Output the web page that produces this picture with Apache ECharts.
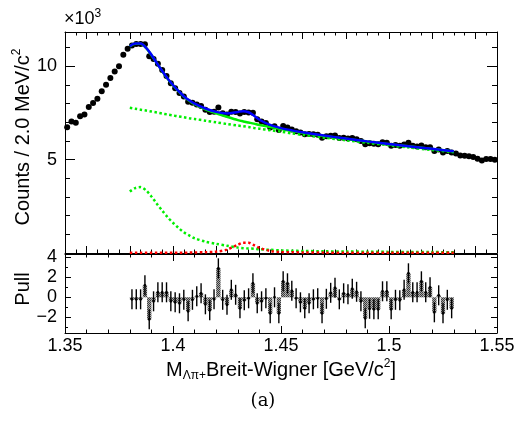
<!DOCTYPE html>
<html><head><meta charset="utf-8">
<script src="https://cdn.jsdelivr.net/npm/echarts@6/dist/echarts.min.js"></script>
<style>html,body{margin:0;padding:0;background:#fff}#c{width:521px;height:422px}</style>
</head><body><div id="c"></div>
<script>
// ---------------- data ----------------
const binLow = 1.35;      // GeV/c^2, first bin lower edge
const binWidth = 0.002;   // 2.0 MeV/c^2
// counts per bin (x10^3)
const counts = [
 6.74,7.05,6.98,7.32,7.42,7.82,8.03,8.26,8.67,9.01,
 9.37,9.73,10.01,10.62,10.94,11.12,11.20,11.20,11.18,10.54,
 10.40,10.14,9.80,9.48,9.10,8.82,8.57,8.38,8.10,8.05,
 7.96,7.88,7.68,7.55,7.57,7.79,7.49,7.42,7.57,7.55,
 7.48,7.56,7.53,7.51,7.17,7.05,6.96,6.73,6.79,6.59,
 6.80,6.73,6.62,6.52,6.45,6.36,6.37,6.36,6.33,6.18,
 6.26,6.28,6.29,6.16,6.18,6.14,6.16,6.10,6.00,5.83,
 5.88,5.85,5.82,5.93,5.90,5.74,5.78,5.75,5.81,5.90,
 5.74,5.71,5.76,5.66,5.66,5.46,5.55,5.39,5.46,5.38,
 5.33,5.23,5.21,5.19,5.14,5.05,4.96,5.03,5.03,5.00
];
// fit curves sampled at these masses
const fitMass = [1.380,1.3825,1.385,1.3875,1.390,1.3925,1.395,1.3975,1.400,1.4025,1.405,1.4075,1.410,1.415,1.420,1.425,1.430,1.4325,1.435,1.4375,1.440,1.445,1.450,1.455,1.460,1.470,1.480,1.490,1.500,1.510,1.520,1.530];
const fitTotal = [11.08,11.22,11.22,11.00,10.62,10.18,9.75,9.35,9.00,8.68,8.40,8.18,8.00,7.74,7.56,7.48,7.56,7.60,7.54,7.35,7.14,6.86,6.69,6.57,6.47,6.29,6.13,5.98,5.84,5.71,5.58,5.45];
const fitNoSignal = [11.07,11.21,11.21,10.99,10.61,10.17,9.74,9.34,8.99,8.67,8.38,8.16,7.97,7.70,7.49,7.30,7.12,7.05,6.99,6.93,6.86,6.75,6.64,6.53,6.44,6.27,6.12,5.97,5.83,5.70,5.57,5.44];
const fitSignal = [0.01,0.01,0.01,0.01,0.01,0.01,0.01,0.01,0.01,0.01,0.02,0.02,0.03,0.04,0.07,0.18,0.44,0.55,0.55,0.42,0.28,0.11,0.05,0.04,0.03,0.02,0.01,0.01,0.01,0.01,0.01,0.01];
const fitPolyBkg = [7.78,7.73,7.68,7.63,7.58,7.53,7.47,7.42,7.37,7.32,7.27,7.22,7.18,7.09,7.00,6.91,6.83,6.79,6.75,6.70,6.66,6.58,6.50,6.41,6.33,6.18,6.04,5.90,5.77,5.64,5.52,5.40];
const fitSigma1385 = [3.29,3.48,3.53,3.36,3.03,2.64,2.27,1.92,1.62,1.35,1.11,0.94,0.79,0.61,0.49,0.39,0.29,0.26,0.24,0.23,0.20,0.17,0.14,0.12,0.11,0.09,0.08,0.07,0.06,0.06,0.05,0.04];
// pulls, bins from 1.380 to 1.530
const pullLow = 1.38;
const pulls = [
 -0.2,-0.2,-0.2,1.2,-2.2,-0.4,0.5,0.5,0.5,-0.4,
 -0.5,-0.6,-0.25,-1.4,-0.25,0.1,0.4,-0.7,-1.3,-0.2,
 2.9,-0.25,-0.75,0.75,0.25,-1.1,-0.3,-0.1,1.4,-0.6,
 -0.4,-0.1,-1.6,0.0,-1.6,1.6,1.4,0.65,-0.1,-0.5,
 -1.1,-0.6,-0.2,-0.1,-1.6,-0.15,0.45,0.95,-0.2,0.4,
 0.3,0.85,0.55,-0.4,-2.1,-1.15,-1.2,-1.2,0.6,0.6,
 -1.2,-0.25,-0.3,0.75,2.4,0.5,0.5,1.6,0.5,1.0,
 -1.5,0.2,-1.6,-0.25,-1.1
];
// tick values
const mainMajorX = [1.36,1.38,1.40,1.42,1.44,1.46,1.48,1.50,1.52,1.54];
const mainMinorX = [1.355,1.365,1.37,1.375,1.385,1.39,1.395,1.405,1.41,1.415,1.425,1.43,1.435,1.445,1.45,1.455,1.465,1.47,1.475,1.485,1.49,1.495,1.505,1.51,1.515,1.525,1.53,1.535,1.545];
const pullMajorX = [1.35,1.4,1.45,1.5,1.55];
const pullMinorX = [1.36,1.37,1.38,1.39,1.41,1.42,1.43,1.44,1.46,1.47,1.48,1.49,1.51,1.52,1.53,1.54];
const mainMajorY = [5,10];
const mainMinorY = [1,2,3,4,6,7,8,9,11];
const pullMajorY = [-2,0,2,4];
const pullMinorY = [-3,-1,1,3];

// ---------------- chart ----------------
const FONT = "'Liberation Sans', Arial, Helvetica, sans-serif";
const xMin = 1.35, xMax = 1.55;
const mainYMin = 0, mainYMax = 11.84;
const pullYMin = -3.57, pullYMax = 4.33;

function mkAxis(grid, pos, min, max, ticks, len, showLine, labels, labelExtra) {
  const a = {
    type: 'value', gridIndex: grid, position: pos, min: min, max: max,
    axisLine: {show: showLine, onZero: false, lineStyle: {color: '#000', width: 1}},
    axisTick: {show: true, inside: true, length: len, customValues: ticks, lineStyle: {color: '#000', width: 1}},
    splitLine: {show: false},
    axisLabel: {show: false}
  };
  if (labels) {
    a.axisLabel = Object.assign({show: true, customValues: labels, color: '#000', fontFamily: FONT, fontSize: 18}, labelExtra || {});
  }
  return a;
}

const xAxis = [
  mkAxis(0, 'bottom', xMin, xMax, mainMajorX, 7, true),
  mkAxis(0, 'bottom', xMin, xMax, mainMinorX, 3.5, false),
  mkAxis(0, 'top', xMin, xMax, mainMajorX, 7, true),
  mkAxis(0, 'top', xMin, xMax, mainMinorX, 3.5, false),
  mkAxis(1, 'bottom', xMin, xMax, pullMajorX, 7, true, pullMajorX, {margin: 4, formatter: v => String(+v.toFixed(3))}),
  mkAxis(1, 'bottom', xMin, xMax, pullMinorX, 3.5, false),
  mkAxis(1, 'top', xMin, xMax, pullMajorX, 7, true),
  mkAxis(1, 'top', xMin, xMax, pullMinorX, 3.5, false)
];
const yAxis = [
  mkAxis(0, 'left', mainYMin, mainYMax, mainMajorY, 10, true, mainMajorY, {margin: 8}),
  mkAxis(0, 'left', mainYMin, mainYMax, mainMinorY, 5, false),
  mkAxis(0, 'right', mainYMin, mainYMax, mainMajorY, 10, true),
  mkAxis(0, 'right', mainYMin, mainYMax, mainMinorY, 5, false),
  mkAxis(1, 'left', pullYMin, pullYMax, pullMajorY, 6, true, pullMajorY, {margin: 8, formatter: v => v < 0 ? '\u2212' + Math.abs(v) : String(v)}),
  mkAxis(1, 'left', pullYMin, pullYMax, pullMinorY, 3, false),
  mkAxis(1, 'right', pullYMin, pullYMax, pullMajorY, 6, true),
  mkAxis(1, 'right', pullYMin, pullYMax, pullMinorY, 3, false)
];

// hatch pattern for pull bars
const pc = document.createElement('canvas');
pc.width = 2; pc.height = 2;
const pctx = pc.getContext('2d');
pctx.fillStyle = '#a8a8a8'; pctx.fillRect(0, 0, 2, 2);
pctx.fillStyle = '#3a3a3a'; pctx.fillRect(0, 0, 1, 1); pctx.fillRect(1, 1, 1, 1);
const hatch = {image: pc, repeat: 'repeat'};

const pointData = counts.map((v, i) => [binLow + binWidth * (i + 0.5), v]);
const curve = arr => fitMass.map((m, k) => [m, arr[k]]);
const pullData = pulls.map((v, j) => [pullLow + binWidth * (j + 0.5), v]);

function lineSeries(arr, color, dotted, z) {
  return {
    type: 'line', xAxisIndex: 0, yAxisIndex: 0, data: curve(arr), showSymbol: false,
    smooth: 0.3, z: z, silent: true,
    lineStyle: {color: color, width: 2.5, type: dotted ? [2.5, 2.5] : 'solid', cap: 'butt'}
  };
}

const series = [
  {type: 'scatter', xAxisIndex: 0, yAxisIndex: 0, data: pointData, symbol: 'circle', symbolSize: 6,
   itemStyle: {color: '#000', opacity: 1}, z: 2, silent: true},
  lineSeries(fitPolyBkg, '#00ee00', true, 3),
  lineSeries(fitSigma1385, '#00ee00', true, 3),
  lineSeries(fitSignal, '#ff0000', true, 3),
  lineSeries(fitNoSignal, '#00ee00', false, 4),
  lineSeries(fitTotal, '#0000ff', false, 5),
  {type: 'custom', xAxisIndex: 4, yAxisIndex: 4, data: pullData, clip: true, silent: true,
   renderItem: function (params, api) {
     const m = api.value(0), v = api.value(1);
     const p0 = api.coord([m - binWidth / 2, 0]);
     const p1 = api.coord([m + binWidth / 2, v]);
     const e0 = api.coord([m, v - 1]);
     const e1 = api.coord([m, v + 1]);
     const c = api.coord([m, v]);
     return {type: 'group', children: [
       {type: 'rect', shape: {x: Math.min(p0[0], p1[0]), y: Math.min(p0[1], p1[1]),
         width: Math.abs(p1[0] - p0[0]), height: Math.abs(p1[1] - p0[1])}, style: {fill: hatch}},
       {type: 'line', shape: {x1: e0[0], y1: e0[1], x2: e1[0], y2: e1[1]}, style: {stroke: '#000', lineWidth: 1.4}},
       {type: 'circle', shape: {cx: c[0], cy: c[1], r: 1.4}, style: {fill: '#000'}}
     ]};
   }}
];

const richBase = {
  a: {fontFamily: FONT, fontSize: 20, lineHeight: 24, fill: '#000'},
  s: {fontFamily: FONT, fontSize: 12, lineHeight: 12, verticalAlign: 'top', fill: '#000'},
  b: {fontFamily: FONT, fontSize: 12, lineHeight: 12, verticalAlign: 'bottom', fill: '#000'}
};

const graphic = [
  {type: 'text', left: 64, top: 8, style: {text: '{c|\u00d710}{t|3}', rich: {
     c: {fontFamily: FONT, fontSize: 18, lineHeight: 22, fill: '#000'},
     t: {fontFamily: FONT, fontSize: 12, lineHeight: 12, verticalAlign: 'top', fill: '#000'}}}},
  {type: 'text', x: 23, y: 137, rotation: Math.PI / 2,
   style: {text: '{a|Counts / 2.0 MeV/c}{s|2}', rich: richBase, align: 'center', verticalAlign: 'middle'}},
  {type: 'text', x: 23, y: 289, rotation: Math.PI / 2,
   style: {text: '{a|Pull}', rich: richBase, align: 'center', verticalAlign: 'middle'}},
  {type: 'text', x: 281, y: 370,
   style: {text: '{a|M}{b|\u039b\u03c0+}{a|Breit-Wigner [GeV/c}{s|2}{a|]}', rich: richBase, align: 'center', verticalAlign: 'middle'}},
  {type: 'text', x: 263, y: 401,
   style: {text: '(a)', font: "18px 'DejaVu Serif', serif", fill: '#000', align: 'center', verticalAlign: 'middle'}}
];

const chart = echarts.init(document.getElementById('c'), null, {renderer: 'canvas'});
chart.setOption({
  animation: false,
  backgroundColor: '#fff',
  grid: [
    {left: 65, top: 32, width: 432, height: 221},
    {left: 65, top: 254, width: 432, height: 79}
  ],
  xAxis: xAxis,
  yAxis: yAxis,
  series: series,
  graphic: graphic
});
</script></body></html>
